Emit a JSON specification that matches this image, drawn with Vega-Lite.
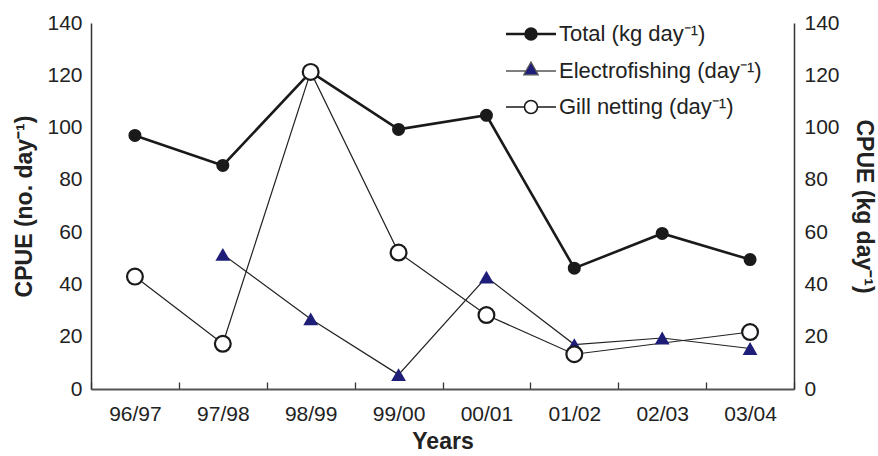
{
  "$schema": "https://vega.github.io/schema/vega-lite/v6.json",
  "width": 703,
  "height": 366,
  "autosize": {"type": "none"},
  "padding": {"left": 91, "top": 23, "right": 84, "bottom": 67},
  "background": "white",
  "config": {
    "view": {"stroke": null},
    "font": "Liberation Sans",
    "axis": {
      "labelFont": "Liberation Sans",
      "labelFontSize": 21,
      "labelColor": "#222",
      "titleFont": "Liberation Sans",
      "titleFontSize": 23,
      "titleFontWeight": "bold",
      "titleColor": "#222",
      "domainColor": "#333",
      "domainWidth": 1.5,
      "ticks": false,
      "grid": true,
      "gridColor": "#333",
      "gridWidth": 1.3,
      "gridOpacity": 1
    }
  },
  "data": {
    "values": [
      {"series": "Total (kg day⁻¹)", "year": "96/97", "i": 0, "v": 97},
      {"series": "Total (kg day⁻¹)", "year": "97/98", "i": 1, "v": 85.5},
      {"series": "Total (kg day⁻¹)", "year": "98/99", "i": 2, "v": 121.3},
      {"series": "Total (kg day⁻¹)", "year": "99/00", "i": 3, "v": 99.3},
      {"series": "Total (kg day⁻¹)", "year": "00/01", "i": 4, "v": 104.7},
      {"series": "Total (kg day⁻¹)", "year": "01/02", "i": 5, "v": 46.2},
      {"series": "Total (kg day⁻¹)", "year": "02/03", "i": 6, "v": 59.5},
      {"series": "Total (kg day⁻¹)", "year": "03/04", "i": 7, "v": 49.5},
      {"series": "Electrofishing (day⁻¹)", "year": "97/98", "i": 1, "v": 51.5},
      {"series": "Electrofishing (day⁻¹)", "year": "98/99", "i": 2, "v": 26.8},
      {"series": "Electrofishing (day⁻¹)", "year": "99/00", "i": 3, "v": 5.5},
      {"series": "Electrofishing (day⁻¹)", "year": "00/01", "i": 4, "v": 42.8},
      {"series": "Electrofishing (day⁻¹)", "year": "01/02", "i": 5, "v": 17},
      {"series": "Electrofishing (day⁻¹)", "year": "02/03", "i": 6, "v": 19.5},
      {"series": "Electrofishing (day⁻¹)", "year": "03/04", "i": 7, "v": 15.5},
      {"series": "Gill netting (day⁻¹)", "year": "96/97", "i": 0, "v": 43},
      {"series": "Gill netting (day⁻¹)", "year": "97/98", "i": 1, "v": 17.3},
      {"series": "Gill netting (day⁻¹)", "year": "98/99", "i": 2, "v": 121.3},
      {"series": "Gill netting (day⁻¹)", "year": "99/00", "i": 3, "v": 52.2},
      {"series": "Gill netting (day⁻¹)", "year": "00/01", "i": 4, "v": 28.3},
      {"series": "Gill netting (day⁻¹)", "year": "01/02", "i": 5, "v": 13.3},
      {"series": "Gill netting (day⁻¹)", "year": "03/04", "i": 7, "v": 21.8}
    ]
  },
  "encoding": {
    "x": {
      "field": "year",
      "type": "ordinal",
      "scale": {"type": "band", "domain": ["96/97", "97/98", "98/99", "99/00", "00/01", "01/02", "02/03", "03/04"], "paddingInner": 0, "paddingOuter": 0},
      "axis": {"title": "Years", "labelAngle": 0, "tickBand": "extent", "gridDash": [7, 359], "gridDashOffset": 7, "labelPadding": 14, "titlePadding": 6, "domainColor": "#555", "domainWidth": 2}
    },
    "y": {"field": "v", "type": "quantitative", "scale": {"domain": [0, 140], "nice": false}, "axis": null},
    "order": {"field": "i"}
  },
  "resolve": {"axis": {"y": "independent"}},
  "layer": [
    {
      "transform": [{"filter": "datum.i < 0"}],
      "mark": {"type": "point", "filled": true},
      "encoding": {
        "fill": {
          "field": "series", "type": "nominal",
          "scale": {"domain": ["Total (kg day⁻¹)", "Electrofishing (day⁻¹)", "Gill netting (day⁻¹)"], "range": ["#1a1a1a", "#1e1e78", "#ffffff"]},
          "legend": {
            "title": null, "orient": "none", "legendX": 429, "legendY": 0, "padding": 0,
            "labelFont": "Liberation Sans", "labelFontSize": 22, "labelColor": "#222", "labelLimit": 400,
            "symbolSize": 400, "labelOffset": 17, "rowPadding": 14, "symbolOpacity": 1,
            "symbolType": {"expr": "datum.index == 0 ? 'M-2.5,0L2.5,0M0.55,0A0.55,0.55,0,1,1,-0.55,0A0.55,0.55,0,1,1,0.55,0Z' : datum.index == 1 ? 'M-2.5,0L-0.55,0M0.55,0L2.5,0M-0.72,0.38L0,-0.9L0.72,0.38Z' : 'M-2.5,0L-0.65,0M0.65,0L2.5,0M0.65,0A0.65,0.65,0,1,1,-0.65,0A0.65,0.65,0,1,1,0.65,0Z'"},
            "symbolStrokeColor": {"expr": "datum.index == 1 ? '#555555' : '#1a1a1a'"},
            "symbolStrokeWidth": {"expr": "datum.index == 0 ? 2.6 : datum.index == 1 ? 1.3 : 1.6"}
          }
        }
      }
    },
    {
      "transform": [{"filter": "datum.series == 'Electrofishing (day⁻¹)'"}],
      "mark": {"type": "line", "color": "#222", "strokeWidth": 1.2},
      "encoding": {
        "y": {"field": "v", "type": "quantitative", "scale": {"domain": [0, 140], "nice": false},
          "axis": {"orient": "left", "title": "CPUE (no. day⁻¹)", "values": [0, 20, 40, 60, 80, 100, 120, 140], "gridDash": [6, 3000], "labelPadding": 9, "titlePadding": 10}}
      }
    },
    {
      "transform": [{"filter": "datum.series == 'Gill netting (day⁻¹)'"}],
      "mark": {"type": "line", "color": "#222", "strokeWidth": 1.2}
    },
    {
      "transform": [{"filter": "datum.series == 'Total (kg day⁻¹)'"}],
      "mark": {"type": "line", "color": "#1a1a1a", "strokeWidth": 2.6},
      "encoding": {
        "y": {"field": "v", "type": "quantitative", "scale": {"domain": [0, 140], "nice": false},
          "axis": {"orient": "right", "title": "CPUE (kg day⁻¹)", "values": [0, 20, 40, 60, 80, 100, 120, 140], "gridDash": [6, 3000], "labelPadding": 10, "titlePadding": 12}}
      }
    },
    {
      "transform": [{"filter": "datum.series == 'Total (kg day⁻¹)'"}],
      "mark": {"type": "point", "filled": true, "shape": "circle", "fill": "#1a1a1a", "stroke": null, "size": 170, "opacity": 1}
    },
    {
      "transform": [{"filter": "datum.series == 'Electrofishing (day⁻¹)'"}],
      "mark": {"type": "point", "filled": true, "shape": "triangle-up", "fill": "#1e1e78", "stroke": null, "size": 220, "opacity": 1}
    },
    {
      "transform": [{"filter": "datum.series == 'Gill netting (day⁻¹)'"}],
      "mark": {"type": "point", "filled": true, "shape": "circle", "fill": "#ffffff", "stroke": "#1a1a1a", "strokeWidth": 2.2, "size": 250, "opacity": 1}
    }
  ]
}
